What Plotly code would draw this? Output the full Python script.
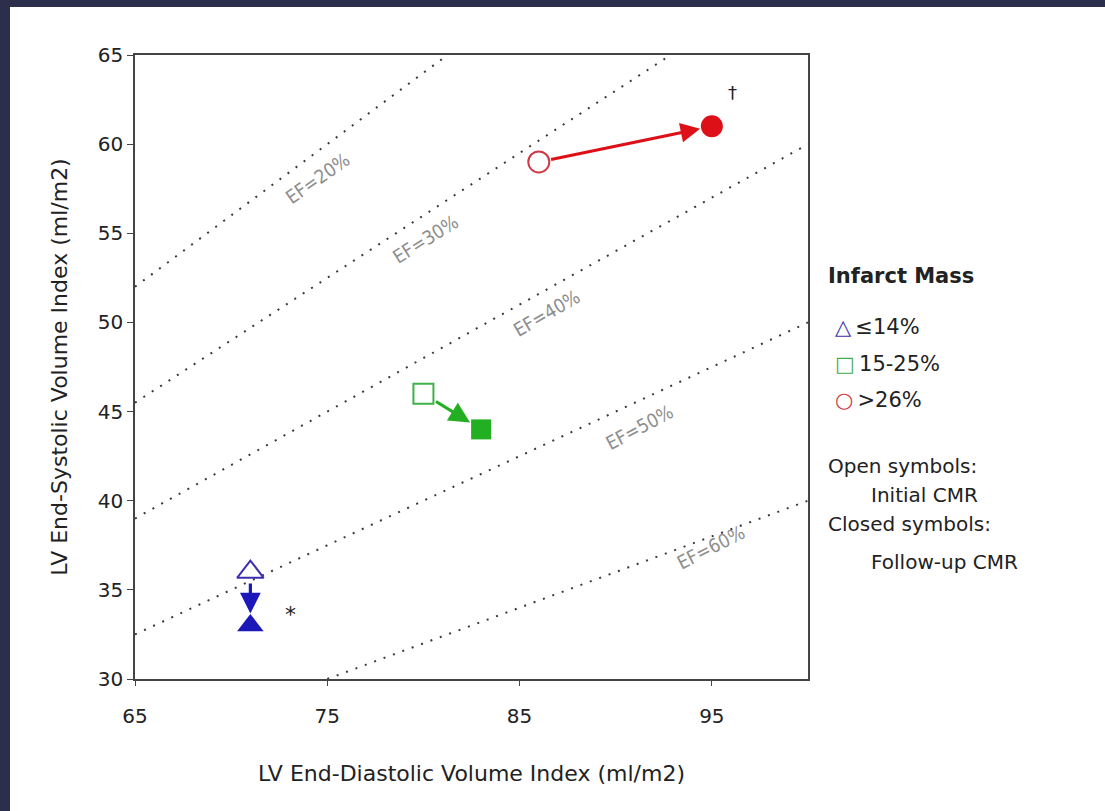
import plotly.graph_objects as go

# ---------------- data ----------------
groups = ["≤14%", "15-25%", ">26%"]
edv_initial = [71, 80, 86]
esv_initial = [36, 46, 59]
edv_followup = [71, 83, 95]
esv_followup = [33, 44, 61]
ef_levels = [20, 30, 40, 50, 60]
x_ticks = [65, 75, 85, 95]
y_ticks = [30, 35, 40, 45, 50, 55, 60, 65]
x_range = [65, 100]
y_range = [30, 65]

# ---------------- styles ----------------
colors_line = ["#3b2fb0", "#3fb04a", "#d03a45"]
colors_fill = ["#1c17b8", "#22b022", "#dd1018"]
symbols_open = ["triangle-up-open", "square-open", "circle-open"]
symbols_closed = ["triangle-up", "square", "circle"]
sizes_open = [23, 20, 21]
sizes_closed = [23, 20, 22]
arrow_start_off = [10, 13, 11]
arrow_end_off = [12, 13, 12]
arrow_widths = [3.2, 3.2, 3]
glyphs = ["△", "□", "○"]
# EF label anchor positions (x in data units, offset below line in data units)
ef_label_x = [74.5, 80.1, 86.4, 91.25, 94.95]
ef_label_dy = [1.5, 1.4, 1.3, 1.5, 0.55]
ef_label_angle = [-35, -32, -30, -28, -27]

W, H = 1105, 811
L, R, T, B = 135, 297, 55, 132
pw, ph = W - L - R, H - T - B

fig = go.Figure()

# EF iso-lines: ESV = EDV * (1 - EF)
for ef in ef_levels:
    k = 1 - ef / 100.0
    x0 = max(x_range[0], y_range[0] / k)
    x1 = min(x_range[1], y_range[1] / k)
    fig.add_trace(go.Scatter(
        x=[x0, x1], y=[k * x0, k * x1], mode="lines",
        line=dict(color="#3a3a3a", width=2, dash="2px,8px"),
        hoverinfo="skip", showlegend=False))

for i, ef in enumerate(ef_levels):
    k = 1 - ef / 100.0
    lx = ef_label_x[i]
    fig.add_annotation(
        x=lx, y=k * lx - ef_label_dy[i], xref="x", yref="y",
        text=f"EF={ef}%", showarrow=False, textangle=ef_label_angle[i],
        font=dict(family="DejaVu Sans Condensed, DejaVu Sans", size=19, color="#8e8e8e"))

# arrows from initial to follow-up
for i in range(len(groups)):
    fig.add_annotation(
        x=edv_followup[i], y=esv_followup[i], ax=edv_initial[i], ay=esv_initial[i],
        xref="x", yref="y", axref="x", ayref="y", text="", showarrow=True,
        arrowhead=2, arrowsize=1.3, arrowwidth=arrow_widths[i], arrowcolor=colors_fill[i],
        standoff=arrow_end_off[i], startstandoff=arrow_start_off[i])

# markers
for i, g in enumerate(groups):
    fig.add_trace(go.Scatter(
        x=[edv_initial[i]], y=[esv_initial[i]], mode="markers", name=g + " initial",
        marker=dict(symbol=symbols_open[i], size=sizes_open[i], color=colors_line[i],
                    line=dict(width=2, color=colors_line[i])),
        showlegend=False))
    fig.add_trace(go.Scatter(
        x=[edv_followup[i]], y=[esv_followup[i]], mode="markers", name=g + " follow-up",
        marker=dict(symbol=symbols_closed[i], size=sizes_closed[i], color=colors_fill[i],
                    line=dict(width=0)),
        showlegend=False))

# significance marks
fig.add_annotation(x=73.1, y=33.6, xref="x", yref="y", text="*", showarrow=False,
                   font=dict(family="DejaVu Sans", size=22, color="#222"))
fig.add_annotation(x=96.05, y=62.9, xref="x", yref="y", text="†", showarrow=False,
                   font=dict(family="DejaVu Sans", size=18, color="#222"))

# custom legend / key (paper coords from pixels)
def px(xp):
    return (xp - L) / pw

def py(yp):
    return (H - B - yp) / ph

txt_font = dict(family="DejaVu Sans", size=20, color="#222")
fig.add_annotation(x=px(826), y=py(276), xref="paper", yref="paper", xanchor="left",
                   yanchor="middle", text="<b>Infarct Mass</b>", showarrow=False,
                   font=dict(family="DejaVu Sans", size=21, color="#222"))
item_y = [327, 364, 400]
for i, g in enumerate(groups):
    fig.add_annotation(x=px(833), y=py(item_y[i]), xref="paper", yref="paper",
                       xanchor="left", yanchor="middle",
                       text=f"<span style='color:{colors_line[i]}'>{glyphs[i]}</span>\u2009{g}",
                       showarrow=False, font=dict(family="DejaVu Sans", size=21, color="#222"))
key_lines = [("Open symbols:", 826, 466), ("Initial CMR", 869, 495),
             ("Closed symbols:", 826, 524), ("Follow-up CMR", 869, 562)]
for t, xp, yp in key_lines:
    fig.add_annotation(x=px(xp), y=py(yp), xref="paper", yref="paper", xanchor="left",
                       yanchor="middle", text=t, showarrow=False, font=txt_font)

# dark frame on top and left edges
frame = "#2b2f4b"
fig.add_shape(type="rect", xref="paper", yref="paper", x0=px(0), x1=px(W), y0=py(7), y1=py(0),
              fillcolor=frame, line=dict(width=0), layer="below")
fig.add_shape(type="rect", xref="paper", yref="paper", x0=px(0), x1=px(10), y0=py(H), y1=py(0),
              fillcolor=frame, line=dict(width=0), layer="below")

axis_font = dict(family="DejaVu Sans", size=20, color="#222")
title_font = dict(family="DejaVu Sans", size=22, color="#222")
fig.update_xaxes(range=x_range, tickvals=x_ticks, ticks="outside", ticklen=5,
                 ticklabelstandoff=13,
                 showline=True, linecolor="#444", linewidth=1.5, mirror=True,
                 showgrid=False, zeroline=False, tickfont=axis_font,
                 title=dict(text="LV End-Diastolic Volume Index (ml/m2)",
                            font=title_font, standoff=39))
fig.update_yaxes(range=y_range, tickvals=y_ticks, ticks="outside", ticklen=6,
                 showline=True, linecolor="#444", linewidth=1.5, mirror=True,
                 showgrid=False, zeroline=False, tickfont=axis_font,
                 title=dict(text="LV End-Systolic Volume Index (ml/m2)",
                            font=title_font, standoff=24))

fig.update_layout(width=W, height=H, margin=dict(l=L, r=R, t=T, b=B, pad=0),
                  paper_bgcolor="white", plot_bgcolor="white", showlegend=False)

fig.write_html("out.html")
